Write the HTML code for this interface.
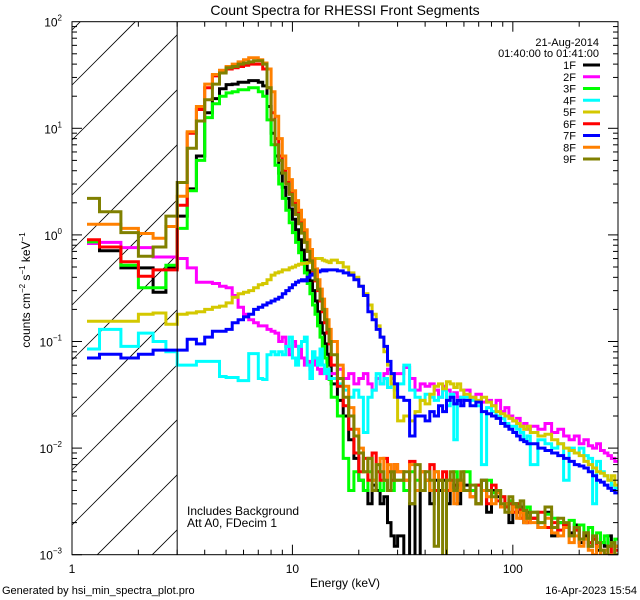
<!DOCTYPE html>
<html><head><meta charset="utf-8"><style>
html,body{margin:0;padding:0;width:640px;height:600px;overflow:hidden;background:#fff}
svg{display:block;font-family:"Liberation Sans",sans-serif}
</style></head><body>
<svg id="chart" width="640" height="600" viewBox="0 0 640 600" xmlns="http://www.w3.org/2000/svg">
<rect width="640" height="600" fill="#fff"/>
<defs><clipPath id="pc"><rect x="72" y="21.7" width="546" height="533"/></clipPath></defs>
<g id="hatch" stroke="#000" stroke-width="0.8"></g>
<text x="345" y="15" font-size="14" text-anchor="middle">Count Spectra for RHESSI Front Segments</text>
<g id="series" clip-path="url(#pc)" fill="none" stroke-width="3" stroke-linejoin="miter"></g>
<g id="axes" stroke="#000" stroke-width="1" fill="none"></g>
<g id="labels" font-size="12"></g>
<text x="345" y="587" font-size="12" text-anchor="middle">Energy (keV)</text>
<text transform="translate(30,290) rotate(-90)" font-size="12" text-anchor="middle">counts cm<tspan dy="-5" font-size="8">−2</tspan><tspan dy="5"> s</tspan><tspan dy="-5" font-size="8">−1</tspan><tspan dy="5"> keV</tspan><tspan dy="-5" font-size="8">−1</tspan></text>
<text x="187" y="515" font-size="12">Includes Background</text>
<text x="187" y="527" font-size="12">Att A0, FDecim 1</text>
<text x="2" y="594" font-size="11">Generated by hsi_min_spectra_plot.pro</text>
<text x="637" y="594" font-size="11" text-anchor="end">16-Apr-2023 15:54</text>
<text x="599" y="46" font-size="11" text-anchor="end">21-Aug-2014</text>
<text x="599" y="57" font-size="11" text-anchor="end">01:40:00 to 01:41:00</text>
<g id="legend" font-size="11"></g>
</svg>
<script>
const NS="http://www.w3.org/2000/svg";
// bin lower edges (keV)
const edges=[1.17,1.333,1.667,2,2.333,2.667,
3,3.333,3.667,4,4.333,4.667,5,5.333,5.667,6,6.333,6.667,7,7.333,7.667,8,8.333,8.667,9,9.333,9.667,10,10.333,10.667,11,11.333,11.667,12,12.333,12.667,13,13.333,13.667,14,14.333,14.667,
15,16,17,18,19,20,21,22,23,24,25,26,27,28,29,
30,32,34,36,38,40,42,44,46,48,50,52,54,56,58,
60,64,68,72,76,80,84,88,92,96,100,104,108,112,116,
120,130,140,150,160,170,180,190,200,210,220,230,240,250,260,270,280,290,300];
const seriesNames=["1F","2F","3F","4F","5F","6F","7F","8F","9F"];
const seriesColors=["#000000","#ff00ff","#00ff00","#00ffff","#d4c800","#ff0000","#0000ff","#ff8000","#808000"];
const s1F=[0.86,0.71,0.49,0.49,0.29,0.49,
1.5,2.7,5.5,14,19,23.5,25.7,26,27,27,28,28,27,25,16,9,5.5,3.8,2.8,2.2,1.75,1.4,1.12,0.9,0.72,0.58,0.46,0.37,0.3,0.24,0.19,0.15,0.12,0.095,0.076,0.06,
0.04,0.028,0.02,0.012,0.008,0.005,0.004,0.003,0.0045,0.004,0.003,0.0035,0.002,0.0015,0.0012,
0.0015,0.0008,0.003,0.0007,0.004,0.005,0.003,0.005,0.004,0.005,0.003,0.004,0.0045,0.003,0.004,
0.0045,0.004,0.003,0.005,0.0025,0.004,0.0035,0.0028,0.003,0.002,0.003,0.0025,0.0028,0.002,0.0025,
0.0022,0.0018,0.0025,0.0015,0.002,0.0018,0.0016,0.0019,0.0013,0.0015,0.0012,0.0014,0.0011,0.0013,0.0012,0.0015,0.0013,0.0012];
const s2F=[0.83,0.85,0.76,0.76,0.62,0.62,
0.6,0.49,0.36,0.36,0.35,0.33,0.32,0.27,0.21,0.18,0.16,0.15,0.14,0.14,0.13,0.125,0.12,0.1,0.11,0.09,0.075,0.1,0.09,0.085,0.07,0.06,0.065,0.055,0.06,0.07,0.055,0.05,0.055,0.06,0.045,0.05,
0.05,0.055,0.045,0.05,0.04,0.045,0.05,0.04,0.035,0.045,0.04,0.05,0.055,0.045,0.05,
0.05,0.057,0.045,0.035,0.04,0.038,0.04,0.035,0.03,0.038,0.035,0.03,0.033,0.03,0.028,
0.035,0.03,0.032,0.027,0.028,0.025,0.028,0.022,0.024,0.02,0.018,0.019,0.016,0.017,0.015,
0.016,0.015,0.017,0.014,0.015,0.013,0.012,0.013,0.011,0.012,0.0105,0.01,0.011,0.0095,0.009,0.0085,0.008,0.0075];
const s3F=[0.86,0.77,0.52,0.32,0.32,0.52,
1.15,2.6,5,12.6,17,20,21.5,22,23,23,24,24,22,20,12,7,4.5,3.0,2.2,1.7,1.3,1.05,0.85,0.68,0.55,0.44,0.35,0.28,0.22,0.18,0.14,0.11,0.09,0.07,0.055,0.044,
0.03,0.02,0.008,0.004,0.006,0.005,0.004,0.006,0.005,0.006,0.004,0.005,0.006,0.004,0.005,
0.005,0.004,0.006,0.005,0.004,0.005,0.004,0.006,0.005,0.004,0.005,0.004,0.006,0.005,0.004,
0.006,0.004,0.0045,0.004,0.005,0.0038,0.004,0.0035,0.003,0.0032,0.0028,0.003,0.0026,0.0024,0.0028,
0.0025,0.002,0.0024,0.0022,0.002,0.0018,0.0021,0.0017,0.0019,0.0016,0.0018,0.0014,0.0016,0.0013,0.0015,0.0012,0.0013,0.0014];
const s4F=[0.085,0.13,0.09,0.12,0.1,0.08,
0.06,0.06,0.065,0.065,0.065,0.047,0.046,0.046,0.043,0.043,0.077,0.077,0.045,0.044,0.075,0.08,0.075,0.08,0.075,0.09,0.11,0.07,0.06,0.09,0.1,0.11,0.06,0.045,0.08,0.07,0.06,0.085,0.06,0.05,0.055,0.045,
0.045,0.04,0.035,0.03,0.035,0.03,0.014,0.03,0.035,0.05,0.04,0.045,0.037,0.04,0.035,
0.04,0.06,0.035,0.03,0.028,0.032,0.03,0.028,0.03,0.035,0.025,0.032,0.012,0.028,0.03,
0.03,0.028,0.025,0.007,0.024,0.022,0.02,0.019,0.017,0.016,0.016,0.015,0.014,0.012,0.013,
0.007,0.012,0.011,0.01,0.011,0.005,0.01,0.009,0.01,0.0085,0.008,0.003,0.0075,0.006,0.0055,0.005,0.0045,0.0042];
const s5F=[0.155,0.155,0.155,0.18,0.185,0.145,
0.18,0.185,0.19,0.2,0.21,0.215,0.23,0.26,0.28,0.29,0.3,0.32,0.34,0.35,0.38,0.42,0.44,0.45,0.47,0.47,0.49,0.5,0.52,0.53,0.54,0.54,0.55,0.57,0.58,0.6,0.6,0.6,0.58,0.57,0.56,0.55,
0.58,0.55,0.5,0.44,0.4,0.33,0.28,0.22,0.18,0.14,0.11,0.08,0.06,0.04,0.03,
0.018,0.02,0.018,0.022,0.028,0.026,0.032,0.038,0.04,0.036,0.042,0.04,0.037,0.04,0.035,
0.032,0.03,0.028,0.03,0.027,0.025,0.022,0.021,0.02,0.019,0.018,0.017,0.016,0.015,0.016,
0.014,0.013,0.0135,0.012,0.011,0.01,0.0095,0.009,0.0085,0.0075,0.007,0.0065,0.006,0.0058,0.0055,0.005,0.0055,0.0045];
const s6F=[0.9,0.77,0.56,0.41,0.47,0.47,
1.9,9,15,24,31,34,36,37,38,39,40,40,40,36,24,14,8,5.5,4,3.1,2.5,2.0,1.6,1.3,1.06,0.86,0.7,0.57,0.46,0.37,0.3,0.24,0.19,0.15,0.12,0.095,
0.06,0.038,0.025,0.015,0.009,0.006,0.008,0.005,0.009,0.006,0.005,0.008,0.006,0.005,0.007,
0.006,0.005,0.0075,0.004,0.006,0.005,0.007,0.004,0.005,0.006,0.004,0.005,0.004,0.005,0.0045,
0.004,0.0035,0.0045,0.004,0.003,0.0045,0.0032,0.0035,0.0028,0.003,0.0025,0.003,0.0022,0.0026,0.002,
0.0022,0.0025,0.0018,0.002,0.0017,0.0019,0.0015,0.0017,0.0014,0.0016,0.0013,0.0014,0.0012,0.0011,0.001,0.0012,0.0009,0.0011];
const s7F=[0.07,0.076,0.07,0.076,0.083,0.083,
0.083,0.105,0.095,0.11,0.125,0.125,0.13,0.15,0.16,0.17,0.18,0.2,0.21,0.22,0.23,0.24,0.25,0.26,0.28,0.3,0.32,0.34,0.36,0.37,0.38,0.37,0.4,0.42,0.43,0.44,0.45,0.46,0.47,0.46,0.47,0.47,
0.47,0.46,0.44,0.42,0.38,0.33,0.27,0.19,0.16,0.13,0.11,0.09,0.065,0.05,0.04,
0.03,0.028,0.013,0.02,0.02,0.018,0.022,0.02,0.025,0.022,0.028,0.03,0.026,0.028,0.025,
0.028,0.025,0.027,0.022,0.021,0.02,0.019,0.017,0.016,0.015,0.014,0.013,0.012,0.0115,0.011,
0.011,0.01,0.0095,0.009,0.0085,0.008,0.0075,0.007,0.0068,0.0065,0.006,0.0055,0.005,0.0048,0.0045,0.0042,0.004,0.0038];
const s8F=[1.26,1.26,1.15,1.03,0.93,1.2,
2.3,9.3,16,26,32,35,38,40,42,44,46,46,44,41,36,22,13,8,5.5,4.2,3.3,2.6,2.1,1.7,1.38,1.12,0.9,0.73,0.59,0.48,0.38,0.31,0.25,0.2,0.16,0.13,
0.1,0.06,0.038,0.024,0.015,0.01,0.006,0.008,0.005,0.007,0.008,0.005,0.007,0.006,0.007,
0.006,0.005,0.007,0.004,0.006,0.005,0.004,0.006,0.005,0.004,0.005,0.004,0.003,0.004,0.005,
0.004,0.0035,0.003,0.004,0.0035,0.003,0.0038,0.0028,0.003,0.0025,0.0028,0.0022,0.0025,0.002,0.0023,
0.002,0.0018,0.0022,0.0016,0.0015,0.0018,0.0013,0.0015,0.0012,0.0014,0.0011,0.001,0.0012,0.0009,0.0011,0.001,0.0008,0.0012];
const s9F=[2.2,1.65,1.05,0.63,0.77,1.5,
3.1,6.5,11.7,18.5,26,33,37,38,40,41,42,43,43,40,24,12,7,5,3.8,3.0,2.4,1.9,1.55,1.27,1.04,0.85,0.7,0.57,0.47,0.38,0.31,0.25,0.2,0.16,0.13,0.1,
0.075,0.045,0.03,0.02,0.013,0.009,0.006,0.008,0.004,0.007,0.006,0.005,0.004,0.006,0.005,
0.005,0.006,0.003,0.007,0.004,0.006,0.005,0.0012,0.005,0.0008,0.005,0.006,0.004,0.005,0.006,
0.004,0.0045,0.003,0.005,0.004,0.0035,0.004,0.003,0.0025,0.0035,0.003,0.0028,0.0032,0.0026,0.0022,
0.0025,0.002,0.0028,0.0018,0.0022,0.002,0.0015,0.0018,0.0014,0.0016,0.0012,0.0015,0.0013,0.0011,0.0009,0.0012,0.0013,0.001];
const seriesValues=[s1F,s2F,s3F,s4F,s5F,s6F,s7F,s8F,s9F];
const xTickMajor=[1,10,100];
const xTickLabels=["1","10","100"];
const yTickExp=[-3,-2,-1,0,1,2];

const X0=72,X1=618,Y0=21.7,Y1=554.7,LXMIN=0,LXMAX=Math.log10(300),LYMIN=-3,LYMAX=2;
function xs(e){return X0+(Math.log10(e)-LXMIN)/(LXMAX-LXMIN)*(X1-X0);}
function ys(v){let y=Y1-(Math.log10(v)-LYMIN)/(LYMAX-LYMIN)*(Y1-Y0);return Math.min(Math.max(y,Y0-3),Y1+3);}
function mk(tag,attrs,parent){const el=document.createElementNS(NS,tag);for(const k in attrs)el.setAttribute(k,attrs[k]);parent.appendChild(el);return el;}

// hatch lines y = c - (x - X0), clipped geometrically to the attenuator region
const hg=document.getElementById('hatch');
const HX1=xs(3);
for(let c=85-55*3;c<Y1+(HX1-X0);c+=55){
  let xa=X0,ya=c;
  if(ya>Y1){xa=X0+(ya-Y1);ya=Y1;}
  let xb=HX1,yb=c-(HX1-X0);
  if(yb<Y0){xb=X0+(c-Y0);yb=Y0;}
  if(xa>=xb||ya<=Y0)continue;
  const ln=mk('line',{x1:xa.toFixed(1),y1:ya.toFixed(1),x2:xb.toFixed(1),y2:yb.toFixed(1)},hg);
  
  
}
const sg=document.getElementById('series');
seriesValues.forEach((vals,i)=>{
  let d='M'+xs(edges[0]).toFixed(1)+','+ys(vals[0]).toFixed(1);
  for(let k=0;k<vals.length;k++){
    if(k>0)d+='V'+ys(vals[k]).toFixed(1);
    d+='H'+Math.min(xs(edges[k+1]),X1+1).toFixed(1);
  }
  const p=mk('path',{d:d,stroke:seriesColors[i]},sg);
  
  
});
const ag=document.getElementById('axes');
const fr=mk('rect',{x:X0,y:Y0,width:X1-X0,height:Y1-Y0},ag);


const vl=mk('line',{x1:xs(3),y1:Y0,x2:xs(3),y2:Y1},ag);


const lg=document.getElementById('labels');
for(let dec=0;dec<3;dec++){for(let m=1;m<=9;m++){const e=m*Math.pow(10,dec);if(e>300)break;const x=xs(e);const L=m==1?10:5;
  const t1=mk('line',{x1:x,y1:Y1,x2:x,y2:Y1-L},ag);
  
  
  const t2=mk('line',{x1:x,y1:Y0,x2:x,y2:Y0+L},ag);
  
  }}
xTickMajor.forEach((e,i)=>{const t=mk('text',{x:xs(e),y:573,'text-anchor':'middle'},lg);t.textContent=xTickLabels[i];
  
  });
for(let ex=-3;ex<2;ex++){for(let m=1;m<=9;m++){const y=ys(m*Math.pow(10,ex));const L=m==1?10:5;
  const a=mk('line',{x1:X0,y1:y,x2:X0+L,y2:y},ag);
  
  
  const b=mk('line',{x1:X1,y1:y,x2:X1-L,y2:y},ag);
  
  }}
yTickExp.forEach(ex=>{const t=mk('text',{x:62,y:ys(Math.pow(10,ex))+5,'text-anchor':'end'},lg);
  t.innerHTML='10<tspan dy="-6" font-size="8">'+(ex<0?'−'+(-ex):ex)+'</tspan>';
  
  });
const lgd=document.getElementById('legend');
seriesNames.forEach((n,i)=>{const y=65+i*11.75;
  const t=mk('text',{x:576,y:y+4,'text-anchor':'end'},lgd);t.textContent=n;
  
  
  const l=mk('line',{x1:583,y1:y,x2:600,y2:y,stroke:seriesColors[i],'stroke-width':3},lgd);
  
  });
</script>
</body></html>
